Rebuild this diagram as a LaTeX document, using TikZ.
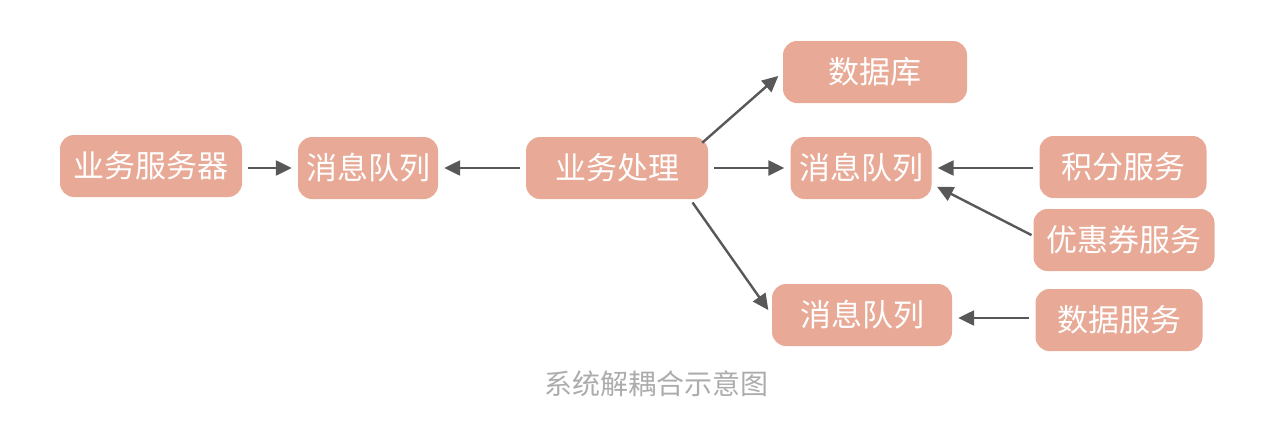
\documentclass[tikz,border=0pt]{standalone}
\usepackage{fontspec}
\setmainfont{Noto Sans CJK SC}
\usetikzlibrary{arrows.meta}
\definecolor{caja}{RGB}{232,170,151}
\definecolor{flecha}{RGB}{88,88,88}
\definecolor{pie}{RGB}{172,172,172}
\tikzset{
  caja/.style={fill=caja, rounded corners=14pt, text=white, inner sep=0pt,
    minimum height=62pt, font=\fontsize{31}{34}\selectfont},
  flujo/.style={->, line width=2.4pt, flecha, shorten >=6pt, shorten <=6pt}
}
\begin{document}
\begin{tikzpicture}[x=1pt, y=-1pt, >={Triangle[length=16pt,width=15pt]}]
  \useasboundingbox (0,0) rectangle (1282,426);
  % cajas
  \node[caja, minimum width=182pt] (srv) at (151,166) {业务服务器};
  \node[caja, minimum width=140pt] (mqa) at (368,168) {消息队列};
  \node[caja, minimum width=182pt] (biz) at (617,168) {业务处理};
  \node[caja, minimum width=184pt] (db) at (875,72) {数据库};
  \node[caja, minimum width=141pt] (mqb) at (861,168) {消息队列};
  \node[caja, minimum width=180pt] (mqc) at (862,315) {消息队列};
  \node[caja, minimum width=167pt] (pts) at (1123,167) {积分服务};
  \node[caja, minimum width=181pt] (cup) at (1124,240) {优惠券服务};
  \node[caja, minimum width=167pt] (dat) at (1119,320) {数据服务};
  % flechas
  \draw[flujo] ([yshift=-2pt]srv.east) -- (mqa.west);
  \draw[flujo] (biz.west) -- (mqa.east);
  \draw[flujo, shorten <=0pt] ([xshift=-6pt,yshift=-6pt]biz.north east) -- (db.west);
  \draw[flujo] (biz.east) -- (mqb.west);
  \draw[flujo, shorten <=4pt] ([xshift=-18pt]biz.south east) -- (mqc.west);
  \draw[flujo] ([yshift=-1pt]pts.west) -- (mqb.east);
  \draw[flujo, shorten <=2pt] ([yshift=4pt]cup.west) -- ([yshift=-16pt]mqb.east);
  \draw[flujo] ([yshift=2pt]dat.west) -- ([yshift=-3pt]mqc.east);
  % pie de figura
  \node[pie, font=\fontsize{28}{32}\selectfont] (tit) at (656,384) {系统解耦合示意图};
\end{tikzpicture}
\end{document}
